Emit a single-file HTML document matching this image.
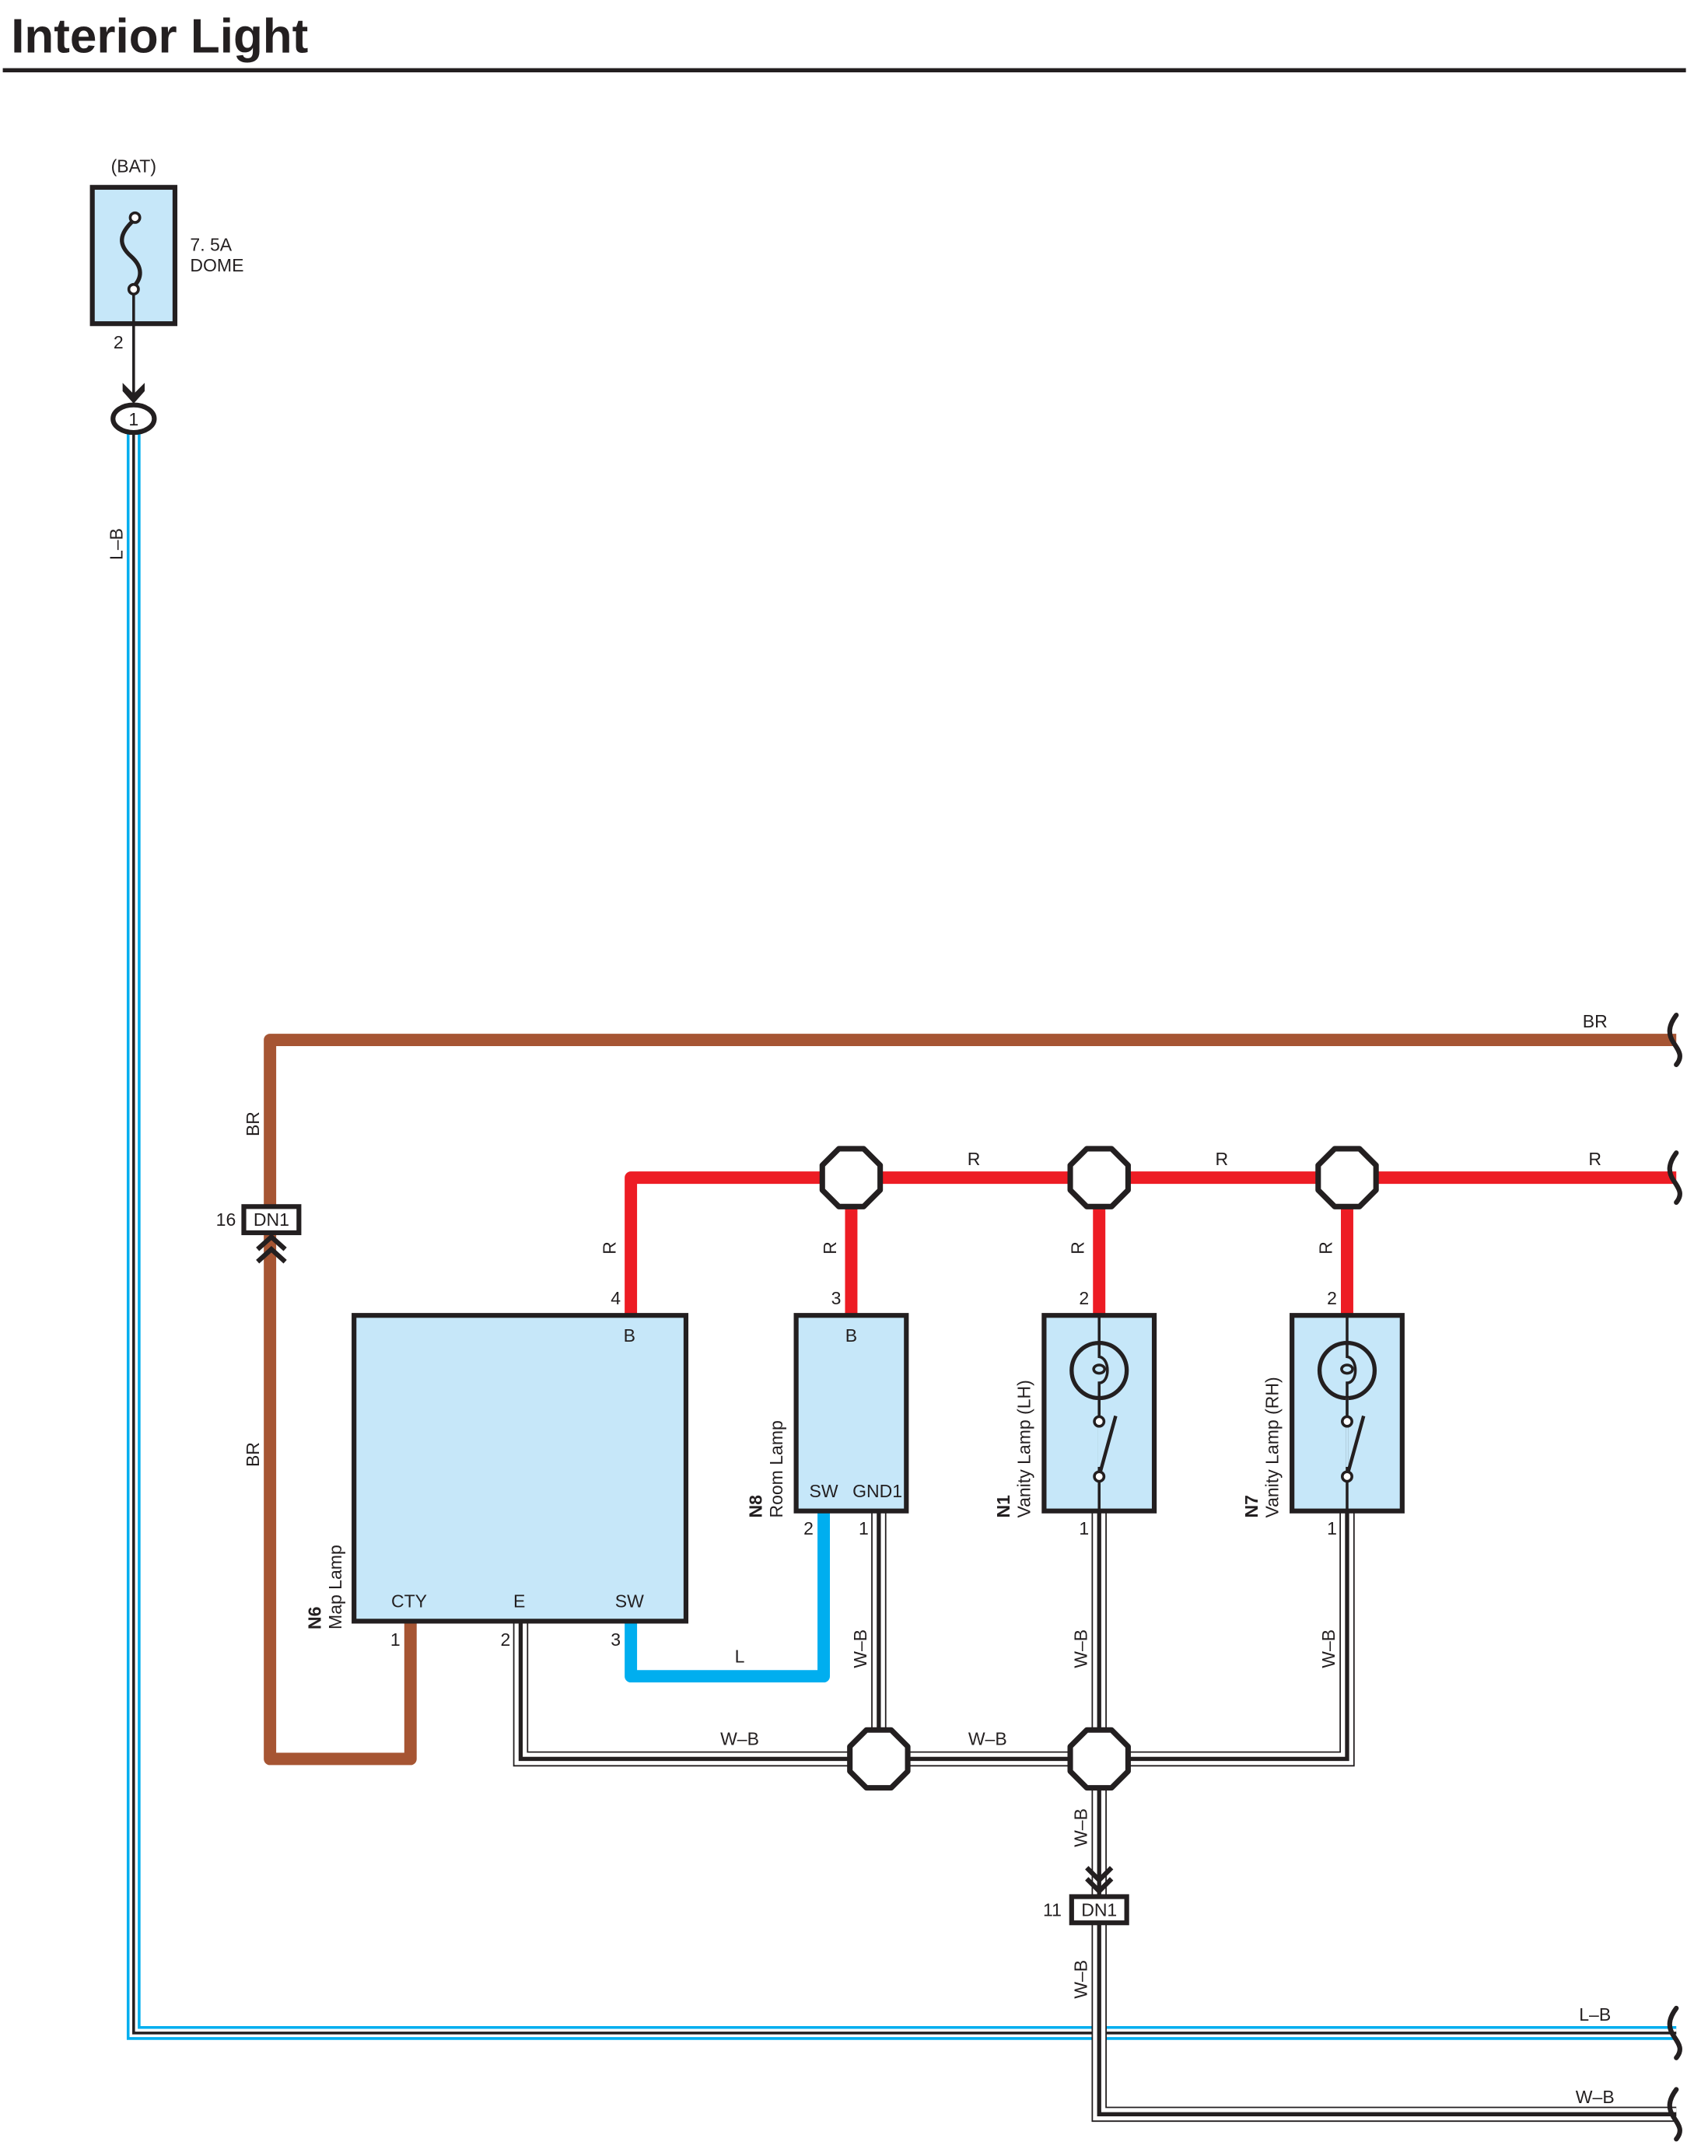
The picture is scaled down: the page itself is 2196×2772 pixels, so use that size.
<!DOCTYPE html>
<html><head><meta charset="utf-8"><style>
html,body{margin:0;padding:0;background:#fff;}
svg{display:block;}
text{font-family:"Liberation Sans",Arial,sans-serif;fill:#231f20;}
</style></head><body>
<svg width="2196" height="2772" viewBox="0 0 1240 1565.3" xmlns="http://www.w3.org/2000/svg">
<defs>
<g id="oct"><polygon points="-9,-21 9,-21 21,-9 21,9 9,21 -9,21 -21,9 -21,-9" fill="#fff" stroke="#231f20" stroke-width="4" stroke-linejoin="round"/></g>
<path id="brk" d="M0,-18 C-6,-10 -6,-4 -2,2 S5,12 0,18" fill="none" stroke="#231f20" stroke-width="3.5" stroke-linecap="round"/>
</defs>
<!-- title -->
<text x="8" y="38" font-size="35" font-weight="bold">Interior Light</text>
<line x1="2" y1="51" x2="1224" y2="51" stroke="#231f20" stroke-width="3"/>

<!-- fuse -->
<text x="97" y="125" font-size="13" text-anchor="middle">(BAT)</text>
<rect x="67" y="136" width="60" height="99" fill="#c6e7f9" stroke="#231f20" stroke-width="3.5"/>
<path d="M97,160 C86,170 86,178 95,186 C104,194 103,202 97,208" fill="none" stroke="#231f20" stroke-width="3"/>
<circle cx="98" cy="158" r="3.5" fill="#fff" stroke="#231f20" stroke-width="2"/>
<circle cx="97" cy="210" r="3.5" fill="#fff" stroke="#231f20" stroke-width="2"/>
<text x="138" y="182" font-size="13">7. 5A</text>
<text x="138" y="197" font-size="13">DOME</text>
<line x1="97" y1="214" x2="97" y2="290" stroke="#231f20" stroke-width="2"/>
<text x="86" y="253" font-size="13" text-anchor="middle">2</text>
<path d="M89,278 L97,286 L105,278 L105,284 L97,293 L89,284 Z" fill="#231f20"/>

<!-- L-B wire -->
<path d="M97,312 L97,1476 L1217,1476" fill="none" stroke="#00aeef" stroke-width="10"/>
<path d="M97,312 L97,1476 L1217,1476" fill="none" stroke="#fff" stroke-width="6"/>
<path d="M97,312 L97,1476 L1217,1476" fill="none" stroke="#231f20" stroke-width="2"/>
<ellipse cx="97" cy="304" rx="15" ry="10" fill="#fff" stroke="#231f20" stroke-width="3.5"/>
<text x="97" y="309" font-size="13" text-anchor="middle">1</text>
<text transform="translate(89,395) rotate(-90)" font-size="13" text-anchor="middle">L–B</text>
<text x="1158" y="1467" font-size="13" text-anchor="middle">L–B</text>
<use href="#brk" x="1217" y="1476"/>

<!-- W-B wires -->
<g fill="none">
<path d="M378,1177 L378,1277 L618,1277 M638,1097 L638,1277 M638,1277 L818,1277 M798,1097 L798,1386 M978,1097 L978,1277 L798,1277 M798,1396 L798,1535 L1217,1535" stroke="#231f20" stroke-width="11"/>
<path d="M378,1177 L378,1277 L618,1277 M638,1097 L638,1277 M638,1277 L818,1277 M798,1097 L798,1386 M978,1097 L978,1277 L798,1277 M798,1396 L798,1535 L1217,1535" stroke="#fff" stroke-width="9"/>
<path d="M378,1177 L378,1277 L618,1277 M638,1097 L638,1277 M638,1277 L818,1277 M798,1097 L798,1386 M978,1097 L978,1277 L798,1277 M798,1396 L798,1535 L1217,1535" stroke="#231f20" stroke-width="3"/>
</g>
<text x="537" y="1267" font-size="13" text-anchor="middle">W–B</text>
<text x="717" y="1267" font-size="13" text-anchor="middle">W–B</text>
<text transform="translate(629,1197) rotate(-90)" font-size="13" text-anchor="middle">W–B</text>
<text transform="translate(789,1197) rotate(-90)" font-size="13" text-anchor="middle">W–B</text>
<text transform="translate(969,1197) rotate(-90)" font-size="13" text-anchor="middle">W–B</text>
<text transform="translate(789,1327) rotate(-90)" font-size="13" text-anchor="middle">W–B</text>
<text transform="translate(789,1437) rotate(-90)" font-size="13" text-anchor="middle">W–B</text>
<text x="1158" y="1527" font-size="13" text-anchor="middle">W–B</text>
<use href="#brk" x="1217" y="1535"/>
<use href="#oct" x="638" y="1277"/>
<use href="#oct" x="798" y="1277"/>
<path d="M789,1356 L798,1365 L807,1356 M789,1364 L798,1373 L807,1364" fill="none" stroke="#231f20" stroke-width="3.5"/>
<rect x="778" y="1377" width="40" height="19" fill="#fff" stroke="#231f20" stroke-width="3.5"/>
<text x="798" y="1391" font-size="13" text-anchor="middle">DN1</text>
<text x="764" y="1391" font-size="13" text-anchor="middle">11</text>

<!-- BR wire -->
<path d="M1217,755 L196,755 L196,1277 L298,1277 L298,1177" fill="none" stroke="#a65533" stroke-width="9" stroke-linejoin="round"/>
<use href="#brk" x="1217" y="755"/>
<text x="1158" y="746" font-size="13" text-anchor="middle">BR</text>
<text transform="translate(188,816) rotate(-90)" font-size="13" text-anchor="middle">BR</text>
<text transform="translate(188,1056) rotate(-90)" font-size="13" text-anchor="middle">BR</text>
<rect x="177" y="876" width="40" height="19" fill="#fff" stroke="#231f20" stroke-width="3.5"/>
<text x="197" y="890" font-size="13" text-anchor="middle">DN1</text>
<text x="164" y="890" font-size="13" text-anchor="middle">16</text>
<path d="M187,907 L197,898 L207,907 M187,916 L197,907 L207,916" fill="none" stroke="#231f20" stroke-width="3.5"/>

<!-- R wire -->
<path d="M1217,855 L458,855 L458,955 M618,855 L618,955 M798,855 L798,955 M978,855 L978,955" fill="none" stroke="#ed1c24" stroke-width="9" stroke-linejoin="round"/>
<use href="#brk" x="1217" y="855"/>
<use href="#oct" x="618" y="855"/>
<use href="#oct" x="798" y="855"/>
<use href="#oct" x="978" y="855"/>
<text x="707" y="846" font-size="13" text-anchor="middle">R</text>
<text x="887" y="846" font-size="13" text-anchor="middle">R</text>
<text x="1158" y="846" font-size="13" text-anchor="middle">R</text>
<text transform="translate(447,906) rotate(-90)" font-size="13" text-anchor="middle">R</text>
<text transform="translate(607,906) rotate(-90)" font-size="13" text-anchor="middle">R</text>
<text transform="translate(787,906) rotate(-90)" font-size="13" text-anchor="middle">R</text>
<text transform="translate(967,906) rotate(-90)" font-size="13" text-anchor="middle">R</text>
<text x="447" y="947" font-size="13" text-anchor="middle">4</text>
<text x="607" y="947" font-size="13" text-anchor="middle">3</text>
<text x="787" y="947" font-size="13" text-anchor="middle">2</text>
<text x="967" y="947" font-size="13" text-anchor="middle">2</text>

<!-- L wire -->
<path d="M598,1097 L598,1217 L458,1217 L458,1177" fill="none" stroke="#00aeef" stroke-width="9" stroke-linejoin="round"/>
<text x="537" y="1207" font-size="13" text-anchor="middle">L</text>

<!-- N6 -->
<rect x="257" y="955" width="241" height="222" fill="#c6e7f9" stroke="#231f20" stroke-width="3.5"/>
<text x="457" y="974" font-size="13" text-anchor="middle">B</text>
<text x="297" y="1167" font-size="13" text-anchor="middle">CTY</text>
<text x="377" y="1167" font-size="13" text-anchor="middle">E</text>
<text x="457" y="1167" font-size="13" text-anchor="middle">SW</text>
<text x="287" y="1195" font-size="13" text-anchor="middle">1</text>
<text x="367" y="1195" font-size="13" text-anchor="middle">2</text>
<text x="447" y="1195" font-size="13" text-anchor="middle">3</text>
<text transform="translate(233,1183) rotate(-90)" font-size="13" font-weight="bold">N6</text>
<text transform="translate(248,1183) rotate(-90)" font-size="13">Map Lamp</text>

<!-- N8 -->
<rect x="578" y="955" width="80" height="142" fill="#c6e7f9" stroke="#231f20" stroke-width="3.5"/>
<text x="618" y="974" font-size="13" text-anchor="middle">B</text>
<text x="598" y="1087" font-size="13" text-anchor="middle">SW</text>
<text x="637" y="1087" font-size="13" text-anchor="middle">GND1</text>
<text x="587" y="1114" font-size="13" text-anchor="middle">2</text>
<text x="627" y="1114" font-size="13" text-anchor="middle">1</text>
<text transform="translate(553,1102) rotate(-90)" font-size="13" font-weight="bold">N8</text>
<text transform="translate(568,1102) rotate(-90)" font-size="13">Room Lamp</text>

<!-- N1 / N7 -->
<g id="van">
<rect x="758" y="955" width="80" height="142" fill="#c6e7f9" stroke="#231f20" stroke-width="3.5"/>
<line x1="798" y1="955" x2="798" y2="1097" stroke="#231f20" stroke-width="2"/>
<circle cx="798" cy="995" r="20" fill="#c6e7f9" stroke="#231f20" stroke-width="3"/>
<path d="M798,975 L798,985 C806,986 806,1004 798,1004 L798,1015" fill="none" stroke="#231f20" stroke-width="2"/>
<ellipse cx="798" cy="994" rx="4" ry="3" fill="none" stroke="#231f20" stroke-width="2"/>
<rect x="797" y="1015" width="2" height="50" fill="#c6e7f9"/>
<line x1="798" y1="1015" x2="798" y2="1030" stroke="#231f20" stroke-width="2"/>
<circle cx="798" cy="1032" r="3.5" fill="#fff" stroke="#231f20" stroke-width="2"/>
<line x1="799" y1="1068" x2="810" y2="1028" stroke="#231f20" stroke-width="2.5"/>
<circle cx="798" cy="1072" r="3.5" fill="#fff" stroke="#231f20" stroke-width="2"/>
<text x="787" y="1114" font-size="13" text-anchor="middle">1</text>
</g>
<use href="#van" x="180" y="0"/>
<text transform="translate(733,1102) rotate(-90)" font-size="13" font-weight="bold">N1</text>
<text transform="translate(748,1102) rotate(-90)" font-size="13">Vanity Lamp (LH)</text>
<text transform="translate(913,1102) rotate(-90)" font-size="13" font-weight="bold">N7</text>
<text transform="translate(928,1102) rotate(-90)" font-size="13">Vanity Lamp (RH)</text>
</svg>
</body></html>
